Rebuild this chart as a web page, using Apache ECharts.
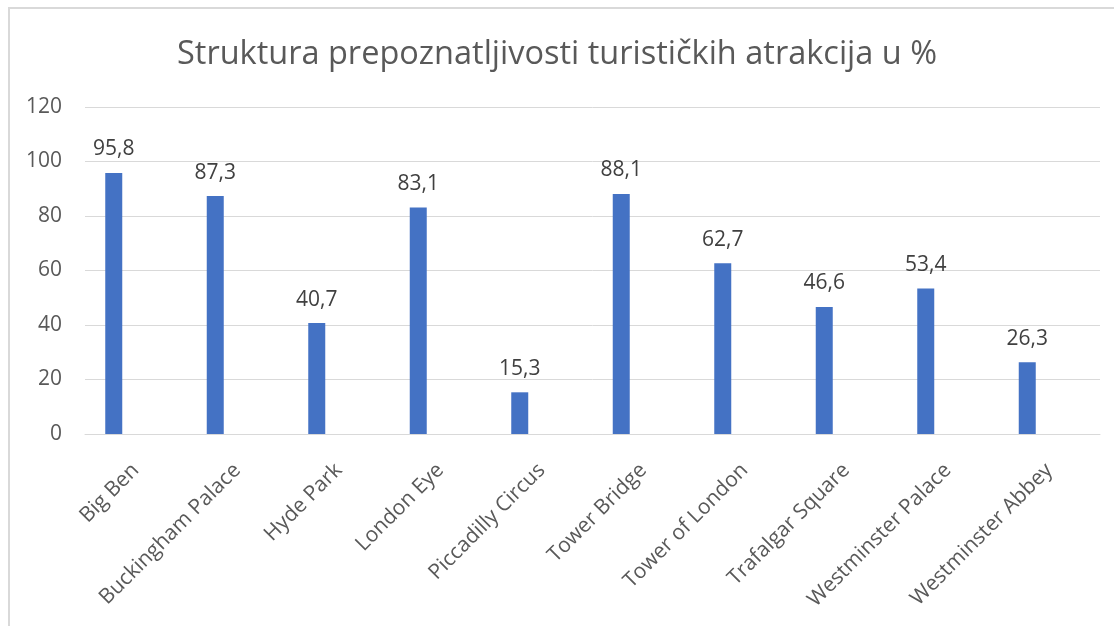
<!DOCTYPE html>
<html>
<head>
<meta charset="utf-8">
<script src="https://cdn.jsdelivr.net/npm/echarts@6/dist/echarts.min.js"></script>
<style>
html,body{margin:0;padding:0;background:#fff;}
#c{width:1114px;height:626px;}
</style>
</head>
<body>
<div id="c"></div>
<script>
const titleText = 'Struktura prepoznatljivosti turističkih atrakcija u %';
const categories = ['Big Ben','Buckingham Palace','Hyde Park','London Eye','Piccadilly Circus','Tower Bridge','Tower of London','Trafalgar Square','Westminster Palace','Westminster Abbey'];
const values = [95.8, 87.3, 40.7, 83.1, 15.3, 88.1, 62.7, 46.6, 53.4, 26.3];
const yMin = 0, yMax = 120, yStep = 20;

const font = "'Open Sans', 'DejaVu Sans', sans-serif";
const chart = echarts.init(document.getElementById('c'), null, {renderer:'canvas'});
chart.setOption({
  backgroundColor:'#fff',
  animation:false,
  title:{
    text:titleText, left:'center', top:33,
    textStyle:{fontFamily:font, fontSize:32.5, fontWeight:'normal', color:'#595959'}
  },
  graphic:[{
    type:'rect', shape:{x:9, y:8, width:1200, height:700},
    style:{fill:'none', stroke:'#d9d9d9', lineWidth:2}, silent:true, z:-10
  }],
  grid:[
    {left:63, width:1015, top:107, bottom:192, containLabel:false},
    {left:85, right:14, top:107, bottom:192, containLabel:false}
  ],
  xAxis:[
    {type:'category', gridIndex:0, data:categories, show:false},
    {type:'category', gridIndex:1, data:categories,
     axisLine:{show:true, lineStyle:{color:'#d9d9d9', width:1}},
     axisTick:{show:false},
     axisLabel:{rotate:45, margin:33, interval:0, fontFamily:font, fontSize:21, color:'#595959'}}
  ],
  yAxis:[
    {type:'value', gridIndex:0, min:yMin, max:yMax, interval:yStep, show:false},
    {type:'value', gridIndex:1, min:yMin, max:yMax, interval:yStep,
     axisLine:{show:false}, axisTick:{show:false},
     splitLine:{show:true, lineStyle:{color:'#d9d9d9', width:1}},
     axisLabel:{margin:23, fontFamily:font, fontSize:21, color:'#595959'}}
  ],
  series:[{
    type:'bar', xAxisIndex:0, yAxisIndex:0, data:values, barWidth:17,
    itemStyle:{color:'#4472c4'},
    label:{show:true, position:'top', distance:13, fontFamily:font, fontSize:21, color:'#404040',
      formatter:p=>String(p.value).replace('.',',')}
  }]
});
</script>
</body>
</html>
